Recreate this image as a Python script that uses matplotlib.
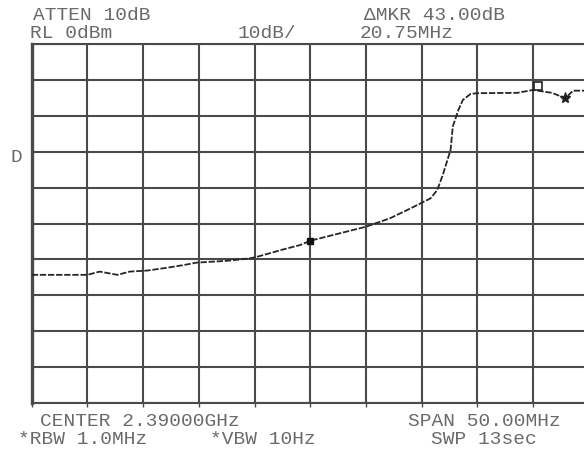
import matplotlib
matplotlib.use("Agg")
import matplotlib.pyplot as plt
import numpy as np

# ---- data ----
center_mhz = 2390.0
span_mhz = 50.0
ref_level = 0.0
db_per_div = 10.0

trace_freq = [2365.0, 2370.0, 2371.1, 2372.7, 2373.8, 2375.4, 2377.2, 2378.6,
              2379.8, 2382.5, 2384.6, 2385.2, 2387.6, 2389.1, 2390.0, 2392.7,
              2395.0, 2397.2, 2399.0, 2400.8, 2401.4, 2401.9, 2402.6, 2402.8,
              2403.3, 2403.7, 2404.4, 2405.0, 2408.6, 2410.0, 2411.7, 2412.9,
              2413.6, 2415.0]
trace_level = [-64.3, -64.3, -63.4, -64.3, -63.4, -63.1, -62.3, -61.6,
               -60.9, -60.4, -59.7, -59.3, -57.2, -56.0, -54.8, -52.7,
               -50.9, -48.5, -45.8, -43.0, -40.7, -36.5, -29.5, -23.0,
               -18.4, -15.6, -13.9, -13.7, -13.6, -12.8, -13.6, -15.1,
               -13.0, -13.0]

marker_freq = [2390.0, 2410.45, 2412.9]
marker_level = [-54.8, -11.8, -15.1]

header_texts = ["ATTEN 10dB", "RL 0dBm", "10dB/", "ΔMKR 43.00dB", "20.75MHz"]
footer_texts = ["CENTER 2.39000GHz", "*RBW 1.0MHz", "*VBW 10Hz",
                "SPAN 50.00MHz", "SWP 13sec"]
side_label = "D"

# ---- figure ----
W, H = 584, 454
fig = plt.figure(figsize=(W / 100, H / 100), dpi=100)
fig.patch.set_facecolor("white")

left_px, right_px, top_px, bottom_px = 31.7, 588.7, 44.0, 403.0
ax = fig.add_axes([left_px / W, 1 - bottom_px / H,
                   (right_px - left_px) / W, (bottom_px - top_px) / H])

f0 = center_mhz - span_mhz / 2
f1 = center_mhz + span_mhz / 2
ax.set_xlim(f0, f1)
ax.set_ylim(ref_level - 10 * db_per_div, ref_level)
ax.set_xticks(np.linspace(f0, f1, 11))
ax.set_yticks(np.linspace(ref_level - 10 * db_per_div, ref_level, 11))
ax.set_xticklabels([])
ax.set_yticklabels([])
grid_col = "#4a4a4a"
ax.grid(True, color=grid_col, linewidth=1.5)
ax.tick_params(axis="both", length=0)
ax.tick_params(axis="x", bottom=True, direction="out", length=3,
               width=1.0, color=grid_col)
for name, sp in ax.spines.items():
    sp.set_color(grid_col)
    sp.set_linewidth(1.5)
ax.spines["left"].set_linewidth(2.4)
ax.set_axisbelow(True)

ax.plot(trace_freq, trace_level, color="#262626", linewidth=1.3,
        linestyle=(0, (3.5, 1.0)), zorder=3)

ax.plot(marker_freq[0], marker_level[0], marker="s", markersize=4.5,
        color="#111111", zorder=4)
ax.plot(marker_freq[1], marker_level[1], marker="s", markersize=6,
        markerfacecolor="white", markeredgecolor="#222222",
        markeredgewidth=1.2, zorder=4)
ax.plot(marker_freq[2], marker_level[2], marker="*", markersize=8,
        color="#222222", zorder=4)

# ---- texts ----
txt_col = "#6a6a6a"
font = dict(family=["Liberation Mono", "DejaVu Sans Mono"], fontsize=14,
            color=txt_col)
adv = 13.5


def put(s, x_start, y_px):
    xc = x_start + len(s) * adv / 2
    fig.text(xc / W, 1 - y_px / H, s, ha="center", va="center", **font)


put(header_texts[0], 24, 15)
put(header_texts[1], 24, 33)
put(header_texts[2], 233, 33)
put(header_texts[3], 353, 15)
put(header_texts[4], 353, 33)

put(footer_texts[0], 25, 422)
put(footer_texts[1], 8, 440)
put(footer_texts[2], 202, 440)
put(footer_texts[3], 397, 422)
put(footer_texts[4], 423, 440)

fig.text(16 / W, 1 - 158 / H, side_label, ha="center", va="center", **font)

fig.savefig("out.png", dpi=100, facecolor="white")
